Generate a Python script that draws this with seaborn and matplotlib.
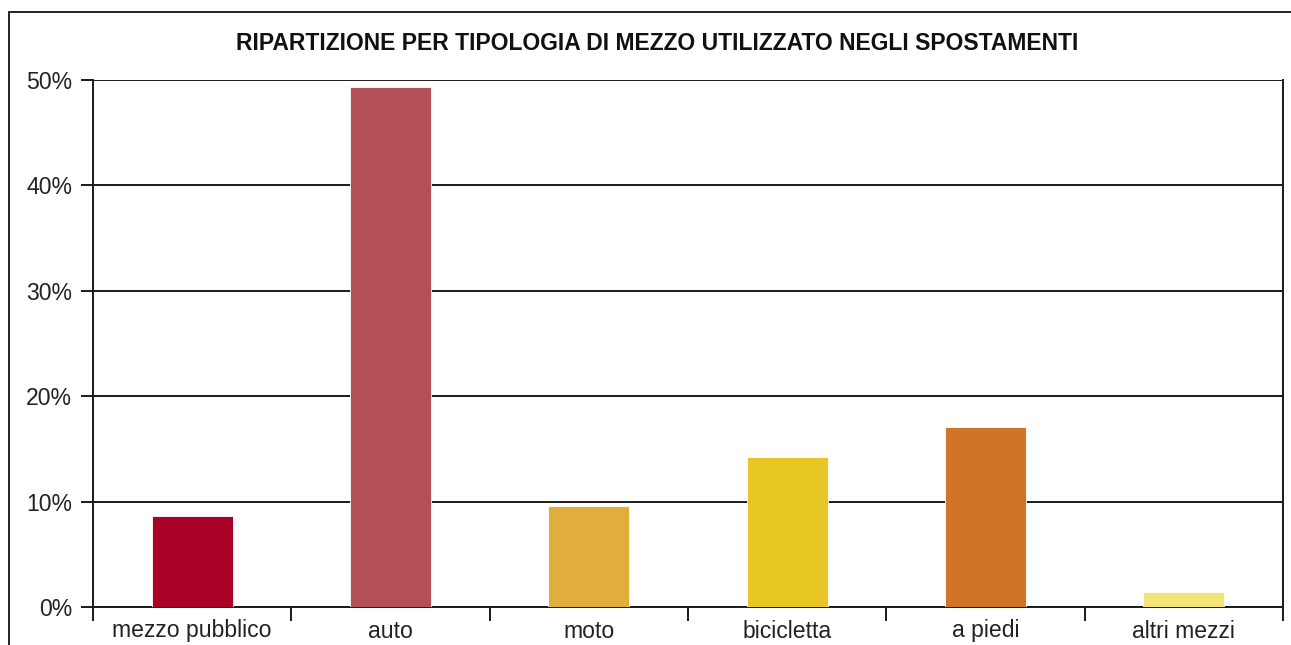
import matplotlib
matplotlib.use("Agg")
import matplotlib.pyplot as plt
from matplotlib.lines import Line2D
from matplotlib.ticker import FixedLocator, FuncFormatter
import seaborn as sns
import pandas as pd

# Modal split of trips by means of transport (percent of trips)
categories = ["mezzo pubblico", "auto", "moto", "bicicletta", "a piedi", "altri mezzi"]
shares = [8.6, 49.3, 9.6, 14.2, 17.1, 1.4]
colors = ["#A80026", "#B25055", "#E1AD3C", "#E8C724", "#D07428", "#F4E577"]
y_ticks = [0, 10, 20, 30, 40, 50]
title = "RIPARTIZIONE PER TIPOLOGIA DI MEZZO UTILIZZATO NEGLI SPOSTAMENTI"

sns.set_theme(style="white")
plt.rcParams["font.family"] = ["Liberation Sans", "DejaVu Sans"]

W, H = 1291, 645
fig = plt.figure(figsize=(W / 100, H / 100), dpi=100)
ax = fig.add_axes([93 / W, 1 - 607 / H, (1283 - 93) / W, (607 - 80) / H])

df = pd.DataFrame({"mezzo": categories, "quota": shares})
sns.barplot(data=df, x="mezzo", y="quota", hue="mezzo", palette=colors,
            legend=False, width=0.41, saturation=1, ax=ax,
            edgecolor="#ffffff", linewidth=0.6, zorder=3)

ax.set_xlim(-0.5, len(categories) - 0.5)
ax.set_ylim(0, 50)
ax.set_xlabel("")
ax.set_ylabel("")

# horizontal grid lines
ax.yaxis.set_major_locator(FixedLocator(y_ticks))
ax.yaxis.set_major_formatter(FuncFormatter(lambda v, _: f"{v:.0f}%"))
for v in y_ticks:
    ax.axhline(v, color="#1a1a1a", lw=1.4, zorder=2)

# x tick marks between categories, labels centred under bars
ax.set_xticks(range(len(categories)))
ax.set_xticklabels(categories)
ax.set_xticks([i - 0.5 for i in range(len(categories) + 1)], minor=True)
ax.tick_params(axis="x", which="major", length=0, pad=9, labelsize=16.6,
               labelcolor="#222222")
ax.tick_params(axis="x", which="minor", length=10, width=1.4, color="#1a1a1a",
               direction="out", bottom=True)
ax.tick_params(axis="y", which="major", length=9, width=1.4, color="#1a1a1a",
               direction="out", left=True, pad=6, labelsize=16.6,
               labelcolor="#222222")

for side in ["left", "right", "bottom"]:
    ax.spines[side].set_visible(True)
    ax.spines[side].set_color("#1a1a1a")
    ax.spines[side].set_linewidth(1.4)
ax.spines["top"].set_visible(False)
ax.grid(False)

fig.text(657 / W, 1 - 43 / H, title, ha="center", va="center",
         fontsize=16.5, fontweight="bold", color="#111111")

# outer frame (top and left edges)
fig.add_artist(Line2D([9 / W, 1.0], [1 - 12 / H, 1 - 12 / H],
                      transform=fig.transFigure, color="#222222", lw=1.4))
fig.add_artist(Line2D([9 / W, 9 / W], [1 - 12 / H, 0.0],
                      transform=fig.transFigure, color="#222222", lw=1.4))

fig.savefig("out.png", dpi=100, facecolor="white")
